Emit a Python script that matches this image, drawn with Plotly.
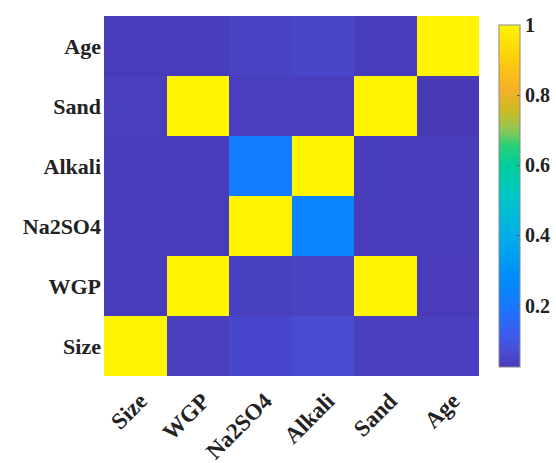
import plotly.graph_objects as go

# Variables of the correlation matrix
labels = ["Size", "WGP", "Na2SO4", "Alkali", "Sand", "Age"]

# One row per variable (bottom row first), columns in the same order as labels
row_size = [1.00, 0.033, 0.055, 0.065, 0.036, 0.036]
row_wgp = [0.030, 1.00, 0.038, 0.042, 1.00, 0.028]
row_na2so4 = [0.030, 0.030, 1.00, 0.250, 0.030, 0.030]
row_alkali = [0.030, 0.030, 0.210, 1.00, 0.030, 0.030]
row_sand = [0.034, 1.00, 0.033, 0.033, 1.00, 0.025]
row_age = [0.030, 0.030, 0.042, 0.052, 0.030, 1.00]

colorbar_ticks = [0.2, 0.4, 0.6, 0.8, 1]
colorbar_ticktext = ["0.2", "0.4", "0.6", "0.8", "1"]

z = [row_size, row_wgp, row_na2so4, row_alkali, row_sand, row_age]

zmin, zmax = 0.025, 1.0

# Parula-like palette, stops given in data units
palette = [
    (0.025, "rgb(73,58,184)"),
    (0.07, "rgb(72,78,212)"),
    (0.12, "rgb(60,92,238)"),
    (0.20, "rgb(22,120,255)"),
    (0.28, "rgb(0,140,250)"),
    (0.40, "rgb(0,175,232)"),
    (0.52, "rgb(0,200,195)"),
    (0.60, "rgb(0,205,155)"),
    (0.655, "rgb(40,208,120)"),
    (0.70, "rgb(140,200,85)"),
    (0.76, "rgb(210,186,35)"),
    (0.82, "rgb(248,176,40)"),
    (0.90, "rgb(252,205,12)"),
    (1.00, "rgb(255,245,0)"),
]
colorscale = [[(v - zmin) / (zmax - zmin), c] for v, c in palette]

font_family = "Liberation Serif, Times New Roman, serif"

fig = go.Figure(
    go.Heatmap(
        z=z,
        x=labels,
        y=labels,
        zmin=zmin,
        zmax=zmax,
        colorscale=colorscale,
        colorbar=dict(
            x=(489 - 104) / 375,
            xanchor="left",
            y=0.5,
            yanchor="middle",
            thickness=21,
            lenmode="pixels",
            len=362,
            outlinewidth=1,
            outlinecolor="#8a8a8a",
            tickvals=colorbar_ticks,
            ticktext=colorbar_ticktext,
            ticks="inside",
            ticklen=3,
            tickcolor="#555555",
            tickfont=dict(family=font_family, size=20, color="#222222", weight="bold"),
        ),
        hoverongaps=False,
    )
)

fig.update_layout(
    width=556,
    height=463,
    margin=dict(l=104, r=77, t=16, b=87, autoexpand=False),
    paper_bgcolor="white",
    plot_bgcolor="white",
    font=dict(family=font_family, size=21, color="#222222", weight="bold"),
    xaxis=dict(
        tickangle=-45,
        showgrid=False,
        zeroline=False,
        ticks="",
        ticklabelstandoff=6,
        ticklabelshift=5,
        tickfont=dict(family=font_family, size=23, color="#222222", weight="bold"),
    ),
    yaxis=dict(
        showgrid=False,
        zeroline=False,
        ticks="",
        ticklabelstandoff=2,
        tickfont=dict(family=font_family, size=22, color="#222222", weight="bold"),
    ),
)

fig.write_html("out.html")
